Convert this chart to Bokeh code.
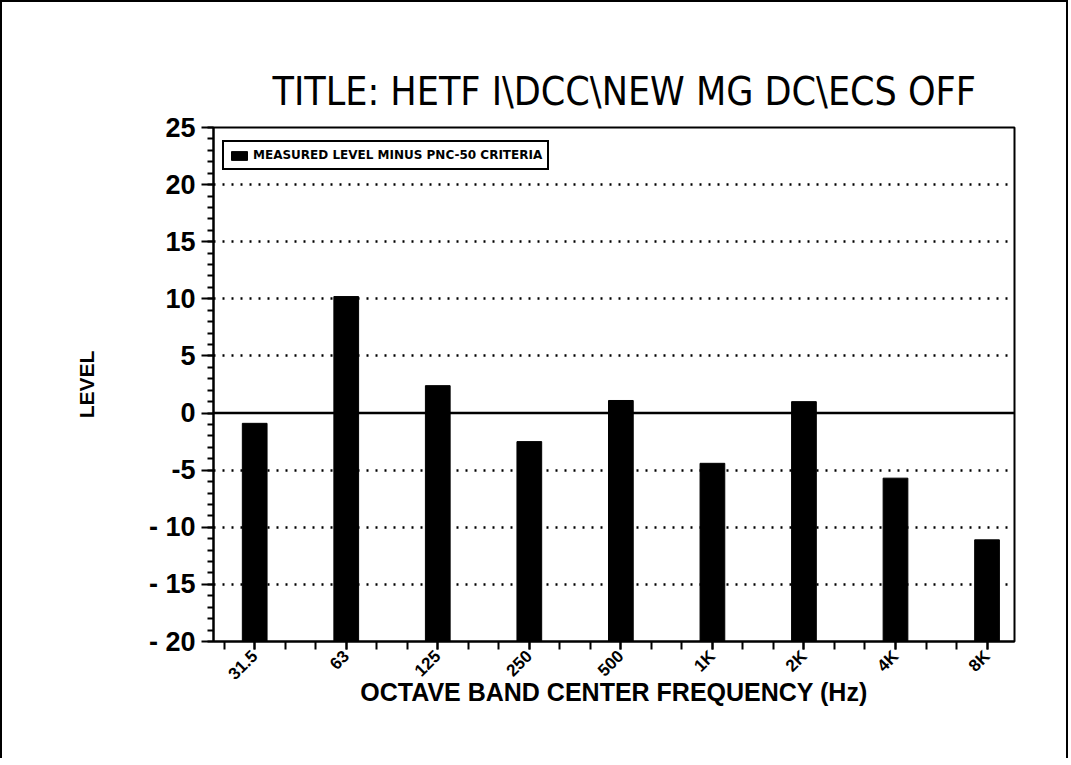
import math
from bokeh.plotting import figure
from bokeh.models import FixedTicker, Span, Legend, LegendItem, ColumnDataSource
from bokeh.embed import file_html
from bokeh.resources import INLINE

# ---- data ----
categories = ["31.5", "63", "125", "250", "500", "1K", "2K", "4K", "8K"]
levels = [-0.9, 10.2, 2.4, -2.5, 1.1, -4.4, 1.0, -5.7, -11.1]
y_ticks = [-20, -15, -10, -5, 0, 5, 10, 15, 20, 25]
y_tick_labels = ["- 20", "- 15", "- 10", "-5", "0", "5", "10", "15", "20", "25"]
title_text = "TITLE:  HETF I\\DCC\\NEW MG DC\\ECS OFF"
legend_text = "MEASURED LEVEL MINUS PNC-50 CRITERIA"
x_title = "OCTAVE BAND CENTER FREQUENCY (Hz)"
y_title = "LEVEL"

positions = list(range(1, len(categories) + 1))
baseline = y_ticks[0]

src = ColumnDataSource(dict(x=positions, top=levels, bottom=[baseline] * len(levels)))

p = figure(width=1068, height=758, output_backend="svg", toolbar_location=None,
           x_range=(0.55, 9.3), y_range=(-20, 25),
           min_border_left=211, min_border_right=56, min_border_top=125,
           min_border_bottom=119)
p.styles = {"border-left": "2px solid black", "border-top": "2px solid black",
            "border-right": "2px solid black"}

p.title.text = title_text
p.title.align = "left"
p.title.text_font = "'DejaVu Sans Condensed', 'Liberation Sans Narrow', 'Liberation Sans'"
p.title.text_font_size = "39px"
p.title.text_font_style = "normal"
p.title.text_color = "black"
p.title.standoff = 28
p.title.offset = 59

p.outline_line_color = "black"
p.outline_line_width = 2
p.outline_line_alpha = 1

# grid
p.xgrid.visible = False
p.ygrid.ticker = FixedTicker(ticks=[t for t in y_ticks if t not in (0, 25, -20)])
p.ygrid.grid_line_color = "black"
p.ygrid.grid_line_dash = "2 7"
p.ygrid.grid_line_width = 2.5

# zero line
p.add_layout(Span(location=0, dimension="width", line_color="black", line_width=2.5))

bars = p.vbar(x="x", top="top", bottom="bottom", width=0.27, source=src,
              fill_color="black", line_color="black")

# y axis
ya = p.yaxis[0]
ya.ticker = FixedTicker(ticks=y_ticks, minor_ticks=list(range(-20, 26)))
ya.major_label_overrides = {t: l for t, l in zip(y_ticks, y_tick_labels)}
ya.major_label_text_font = "Liberation Sans"
ya.major_label_text_font_style = "bold"
ya.major_label_text_font_size = "27px"
ya.major_label_text_color = "black"
ya.major_tick_out = 12
ya.major_tick_in = 0
ya.minor_tick_out = 6
ya.minor_tick_in = 0
ya.major_tick_line_width = 2
ya.minor_tick_line_width = 2
ya.axis_line_width = 2
ya.major_label_standoff = 6
ya.axis_label = y_title
ya.axis_label_text_font = "Liberation Sans"
ya.axis_label_text_font_style = "bold"
ya.axis_label_text_font_size = "21px"
ya.axis_label_text_color = "black"
ya.axis_label_standoff = 48

# x axis
xa = p.xaxis[0]
minor = []
k = 0.0
while k <= 9.4:
    minor.append(round(k, 4))
    k += 1 / 3
xa.ticker = FixedTicker(ticks=positions, minor_ticks=minor)
xa.major_label_overrides = {pos: c for pos, c in zip(positions, categories)}
xa.major_label_orientation = math.pi / 4
xa.major_label_text_font = "Liberation Sans"
xa.major_label_text_font_style = "bold"
xa.major_label_text_font_size = "17px"
xa.major_label_text_color = "black"
xa.major_tick_out = 8
xa.major_tick_in = 0
xa.minor_tick_out = 8
xa.minor_tick_in = 0
xa.major_tick_line_width = 2
xa.minor_tick_line_width = 2
xa.axis_line_width = 2
xa.major_label_standoff = 4
xa.axis_label = x_title
xa.axis_label_text_font = "Liberation Sans"
xa.axis_label_text_font_style = "bold"
xa.axis_label_text_font_size = "25px"
xa.axis_label_text_color = "black"
xa.axis_label_standoff = -15

legend = Legend(items=[LegendItem(label=legend_text, renderers=[bars])],
                location=(9, 471))
legend.label_text_font = "DejaVu Sans"
legend.label_text_font_style = "bold"
legend.label_text_font_size = "12px"
legend.label_text_color = "black"
legend.border_line_color = "black"
legend.border_line_width = 2.5
legend.border_line_alpha = 1
legend.padding = 5
legend.margin = 0
legend.glyph_width = 20
legend.glyph_height = 11
legend.label_height = 16
legend.label_standoff = 4
legend.background_fill_alpha = 1
p.add_layout(legend)

open("out.html", "w").write(file_html(p, INLINE))
